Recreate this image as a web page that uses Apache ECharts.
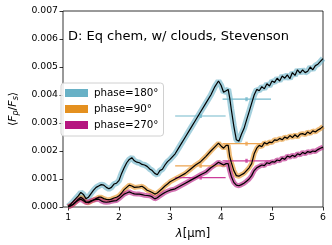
<!DOCTYPE html>
<html><head><meta charset="utf-8">
<script src="https://cdn.jsdelivr.net/npm/echarts@6/dist/echarts.min.js"></script>
<style>html,body{margin:0;padding:0;background:#fff}#c{width:332px;height:245px}</style>
</head><body><div id="c"></div>
<script>
var wavelength = [1.00,1.05,1.10,1.15,1.20,1.25,1.30,1.35,1.40,1.45,1.50,1.55,1.60,1.65,1.70,1.75,1.80,1.85,1.90,1.95,2.00,2.05,2.10,2.15,2.20,2.25,2.30,2.35,2.40,2.45,2.50,2.55,2.60,2.65,2.70,2.75,2.80,2.85,2.90,2.95,3.00,
3.10,3.20,3.30,3.40,3.50,3.60,3.70,3.80,3.88,3.95,
4.00,4.05,4.10,4.14,4.17,4.20,4.25,4.30,4.35,4.40,4.45,4.50,4.55,4.60,4.65,4.70,4.75,4.80,4.85,4.90,4.95,5.00,
5.05,5.10,5.15,5.20,5.25,5.30,5.35,5.40,5.45,5.50,5.55,5.60,5.65,5.70,5.75,5.80,5.85,5.90,5.95,6.00];

var phase180 = [0.00002,0.0001,0.0002,0.0003,0.0004,0.00052,0.00045,0.0003,0.00035,0.00048,0.0006,0.0007,0.00075,0.0008,0.00078,0.0007,0.00065,0.0007,0.00082,0.00085,0.00095,0.0012,0.0014,0.00158,0.0017,0.00176,0.00165,0.0016,0.00158,0.00152,0.0015,0.00145,0.00136,0.0013,0.0012,0.00115,0.0013,0.00135,0.0015,0.00162,0.0017,
0.0019,0.0022,0.0025,0.0028,0.0031,0.0034,0.0037,0.0040,0.0043,0.0045,
0.00435,0.0041,0.00415,0.0042,0.0039,0.0035,0.0029,0.0024,0.00235,0.0026,0.0028,0.0031,0.0034,0.0037,0.0040,0.0042,0.00415,0.0043,0.00422,0.0044,0.00432,0.0045,
0.00445,0.0046,0.0045,0.00468,0.0046,0.00472,0.00458,0.0048,0.0047,0.0049,0.00478,0.0049,0.0048,0.00485,0.0050,0.0049,0.00505,0.0051,0.0052,0.0053];

var phase90 = [0.00001,0.00005,0.0001,0.00018,0.00028,0.00035,0.00028,0.00018,0.00015,0.0002,0.00025,0.0003,0.00035,0.00035,0.0003,0.00027,0.00026,0.00028,0.00032,0.00035,0.0004,0.0005,0.00062,0.0007,0.00078,0.00075,0.0007,0.00071,0.00072,0.00074,0.00068,0.0006,0.00056,0.00052,0.00046,0.0005,0.00058,0.00066,0.00075,0.00082,0.0009,
0.001,0.0011,0.0012,0.00135,0.0015,0.00162,0.0018,0.002,0.00215,0.00228,
0.00218,0.0021,0.0022,0.0022,0.0018,0.0016,0.0013,0.00112,0.0011,0.00115,0.0012,0.0013,0.0014,0.00155,0.0019,0.0021,0.0022,0.00215,0.0023,0.00225,0.00232,0.0023,
0.0024,0.00238,0.00245,0.0024,0.0025,0.00245,0.00255,0.00248,0.00258,0.0025,0.0026,0.00262,0.00258,0.00268,0.00262,0.00272,0.00268,0.00275,0.0028,0.00288];

var phase270 = [0.00001,0.00004,0.0001,0.00018,0.00024,0.00028,0.00022,0.00016,0.00018,0.00022,0.00025,0.00027,0.00028,0.00022,0.00018,0.00017,0.00018,0.0002,0.00022,0.00023,0.0003,0.00038,0.00046,0.0005,0.00054,0.0005,0.00047,0.00046,0.00046,0.00044,0.00042,0.00041,0.0004,0.00036,0.00029,0.00033,0.0004,0.00046,0.00052,0.00056,0.0006,
0.00065,0.00075,0.00085,0.00095,0.00105,0.00115,0.00124,0.0014,0.0015,0.0016,
0.00155,0.0015,0.00155,0.00155,0.0013,0.0011,0.00088,0.00078,0.00076,0.0008,0.00085,0.00092,0.001,0.00112,0.0013,0.0014,0.00145,0.0015,0.00148,0.00158,0.00155,0.00162,
0.0016,0.00168,0.00165,0.00175,0.0017,0.00182,0.00178,0.00185,0.0018,0.0019,0.00186,0.00195,0.0019,0.00198,0.00195,0.002,0.00198,0.00205,0.0021,0.00214];

// horizontal error bars (photometric bands)
var barStart = [3.10, 4.03];
var barEnd = [4.09, 4.98];
var barCenter = [3.60, 4.50];
var bar180 = [0.00325, 0.00385];
var bar90 = [0.00147, 0.00226];
var bar270 = [0.00105, 0.00165];

var names = ['phase=180°', 'phase=90°', 'phase=270°'];
var xTicks = [1, 2, 3, 4, 5, 6];

var bandColors = ['#68b1c6', '#e4901f', '#b5157f'];
var barColors = ['#74b9cc', '#eda552', '#cc3c9a'];
var bandWidths = [6, 5, 5];

function pairs(xs, ys) { return xs.map(function (x, i) { return [x, ys[i]]; }); }

var curves = [phase180, phase90, phase270];
var bars = [bar180, bar90, bar270];
var series = [];
curves.forEach(function (c, k) {
  series.push({
    name: names[k], type: 'line', data: pairs(wavelength, c), showSymbol: false,
    color: bandColors[k], lineStyle: { color: bandColors[k], width: bandWidths[k], opacity: 0.6 },
    z: 2, silent: true
  });
});
bars.forEach(function (b, k) {
  for (var i = 0; i < b.length; i++) {
    series.push({
      type: 'line', data: [[barStart[i], b[i]], [barEnd[i], b[i]]], showSymbol: false,
      lineStyle: { color: barColors[k], width: 1.2 }, z: 3, silent: true
    });
  }
  series.push({
    type: 'scatter', data: pairs(barCenter, b), symbol: 'rect', symbolSize: [2.5, 4],
    itemStyle: { color: barColors[k] }, z: 3, silent: true
  });
});
curves.forEach(function (c, k) {
  series.push({
    type: 'line', data: pairs(wavelength, c), showSymbol: false,
    lineStyle: { color: '#000', width: 1.2 }, z: 4, silent: true
  });
});

var chart = echarts.init(document.getElementById('c'), null, { renderer: 'canvas' });
chart.setOption({
  animation: false,
  backgroundColor: '#fff',
  textStyle: { fontFamily: 'DejaVu Sans' },
  title: {
    text: 'D: Eq chem, w/ clouds, Stevenson', left: 63, top: 25,
    textStyle: { fontSize: 13, fontWeight: 'normal', color: '#000', fontFamily: 'DejaVu Sans' }
  },
  legend: {
    data: names, orient: 'vertical', left: 61, top: 83,
    icon: 'rect', itemWidth: 23, itemHeight: 8, itemGap: 4,
    padding: [4, 5, 5, 4], borderColor: '#d0d0d0', borderWidth: 1, borderRadius: 3,
    backgroundColor: 'rgba(255,255,255,0.85)',
    textStyle: { fontSize: 10.3, color: '#000', padding: [0, 0, 0, 1], lineHeight: 12 },
    selectedMode: false
  },
  grid: { left: 57, right: 9, top: 11, bottom: 37, show: true, borderColor: '#000', borderWidth: 0.8, backgroundColor: 'transparent' },
  xAxis: {
    type: 'value', min: 0.9, max: 6,
    name: '{i|λ}[μm]', nameLocation: 'middle', nameGap: 21,
    nameTextStyle: { fontSize: 11.5, color: '#000', rich: { i: { fontStyle: 'italic', fontSize: 11.5 } } },
    axisLine: { show: false },
    axisTick: { show: true, length: 3.5, inside: false, customValues: xTicks, lineStyle: { color: '#000', width: 0.8 } },
    axisLabel: { customValues: xTicks, fontSize: 9.3, color: '#000', margin: 6 },
    splitLine: { show: false }
  },
  yAxis: {
    type: 'value', min: 0, max: 0.007, interval: 0.001,
    name: '⟨{i|F}{s|p}/{i|F}{s|s}⟩', nameLocation: 'middle', nameGap: 43, nameRotate: 90,
    nameTextStyle: { fontSize: 11, color: '#000', rich: { i: { fontStyle: 'italic', fontSize: 11 }, s: { fontStyle: 'italic', fontSize: 8, verticalAlign: 'bottom', padding: [5, 0, 0, 0] } } },
    axisLine: { show: false },
    axisTick: { show: true, length: 3.5, lineStyle: { color: '#000', width: 0.8 } },
    axisLabel: { fontSize: 9.3, color: '#000', margin: 5, formatter: function (v) { return v.toFixed(3); } },
    splitLine: { show: false }
  },
  series: series
});
</script></body></html>
